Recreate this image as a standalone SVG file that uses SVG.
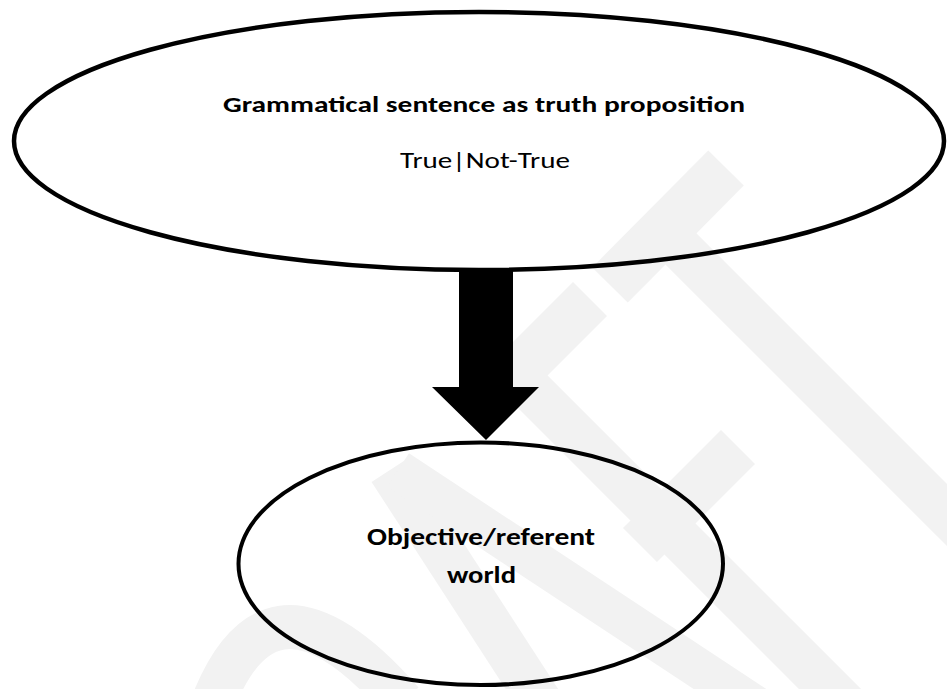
<svg xmlns="http://www.w3.org/2000/svg" width="947" height="689" viewBox="0 0 947 689">
  <style>
    .wm { stroke: #f2f2f2; fill: none; stroke-linecap: butt; }
    .shape { fill: none; stroke: #000; }
    .t { font-family: Carlito, Calibri, Lato, "Open Sans", sans-serif; fill: #000; text-anchor: middle; }
    .b { font-weight: bold; }
  </style>
  <rect width="947" height="689" fill="#fff"/>
  <g id="watermark">
    <line class="wm" x1="726" y1="168" x2="610" y2="285" stroke-width="50"/>
    <line class="wm" x1="663" y1="231" x2="1000" y2="568" stroke-width="44"/>
    <line class="wm" x1="590" y1="299" x2="480" y2="409" stroke-width="48"/>
    <line class="wm" x1="738" y1="447" x2="640" y2="545" stroke-width="48"/>
    <line class="wm" x1="500" y1="359" x2="860" y2="719" stroke-width="44"/>
    <path class="wm" d="M390 470 L552 720" stroke-width="44"/>
    <path class="wm" d="M398 470 L780 722" stroke-width="40"/>
    <path class="wm" d="M212 705 C245 620 300 585 402 702" stroke-width="44"/>
  </g>
  <g id="node-proposition">
    <ellipse class="shape" cx="479" cy="141" rx="465" ry="129" stroke-width="4.5"/>
    <text class="t b" x="484" y="112" font-size="23" textLength="522" lengthAdjust="spacingAndGlyphs">Grammatical sentence as truth proposition</text>
    <text class="t" x="485" y="168" font-size="22.5" textLength="170" lengthAdjust="spacingAndGlyphs">True|Not-True</text>
  </g>
  <g id="connectors">
    <polygon points="459,269 513,269 513,387 539,387 486,440 432,387 459,387" fill="#000"/>
  </g>
  <g id="node-world">
    <ellipse class="shape" cx="480.75" cy="563.75" rx="242.25" ry="121.25" stroke-width="4"/>
    <text class="t b" x="481" y="545" font-size="23.5" textLength="228" lengthAdjust="spacingAndGlyphs">Objective/referent</text>
    <text class="t b" x="481.5" y="583" font-size="23.5" textLength="69" lengthAdjust="spacingAndGlyphs">world</text>
  </g>
</svg>
